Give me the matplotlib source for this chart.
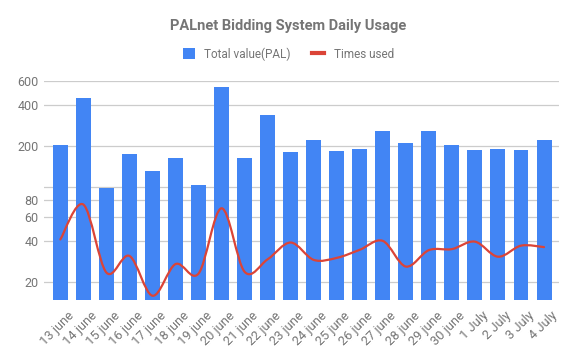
import numpy as np
import matplotlib
matplotlib.use("Agg")
import matplotlib.pyplot as plt
from matplotlib.path import Path
from matplotlib.patches import PathPatch, Patch
from matplotlib.lines import Line2D
from matplotlib.transforms import ScaledTranslation

plt.rcParams['font.family'] = ['Roboto', 'DejaVu Sans']

dates = ["13 june", "14 june", "15 june", "16 june", "17 june", "18 june", "19 june",
         "20 june", "21 june", "22 june", "23 june", "24 june", "25 june", "26 june",
         "27 june", "28 june", "29 june", "30 june", "1 July", "2 July", "3 July", "4 July"]
total_value = [203, 449, 98, 174, 131, 162, 103, 540, 162, 336, 180, 220, 183, 189,
               256, 209, 256, 202, 186, 189, 186, 220]
times_used = [41, 74, 23.4, 31, 15.8, 27, 23, 69.5, 23.7, 29.3, 38.9, 29, 30, 34.4,
              40, 25.9, 34.2, 34.8, 39.5, 30.6, 36.9, 36]
y_ticks = [20, 40, 60, 80, 100, 200, 400, 600]
y_tick_labels = ["20", "40", "60", "80", "", "200", "400", "600"]

BLUE = "#4285F4"
RED = "#DB4437"
GREY = "#757575"

fig = plt.figure(figsize=(5.77, 3.57), dpi=100)
ax = fig.add_axes([44/577, 1 - 300/357, (559 - 44)/577, (300 - 81)/357])

x = np.arange(len(dates))
ax.bar(x, total_value, width=0.65, color=BLUE, zorder=2)

ax.set_yscale('log')
ax.set_ylim(14.7, 600)
ax.set_xlim(-0.71, len(dates) - 1 + 0.65)

# smooth curve through points (cubic Bezier in display/log space)
px = x.astype(float)
py = np.log10(np.array(times_used, dtype=float))
verts = [(px[0], times_used[0])]
codes = [Path.MOVETO]
n = len(px)
for i in range(n - 1):
    p0 = np.array([px[max(i - 1, 0)], py[max(i - 1, 0)]])
    p1 = np.array([px[i], py[i]])
    p2 = np.array([px[i + 1], py[i + 1]])
    p3 = np.array([px[min(i + 2, n - 1)], py[min(i + 2, n - 1)]])
    c1 = p1 + (p2 - p0) / 6.0
    c2 = p2 - (p3 - p1) / 6.0
    for c in (c1, c2, p2):
        verts.append((c[0], 10 ** c[1]))
    codes += [Path.CURVE4] * 3
path = Path(verts, codes)
ax.add_patch(PathPatch(path, facecolor='none', edgecolor=RED, lw=1.6, zorder=3,
                       capstyle='round', joinstyle='round'))

ax.set_yticks(y_ticks)
ax.set_yticklabels(y_tick_labels)
ax.yaxis.set_minor_locator(matplotlib.ticker.NullLocator())
ax.grid(axis='y', color='#cccccc', lw=0.9, zorder=0)
ax.set_axisbelow(True)
for s in ax.spines.values():
    s.set_visible(False)
ax.tick_params(axis='y', length=0, labelsize=9, labelcolor=GREY, pad=4)
ax.set_xticks(x)
ax.set_xticklabels(dates, rotation=45, ha='right', rotation_mode='anchor')
ax.tick_params(axis='x', length=0, labelsize=9.3, labelcolor=GREY, pad=6.5)
offset = ScaledTranslation(7/100, 0, fig.dpi_scale_trans)
for lbl in ax.get_xticklabels():
    lbl.set_transform(lbl.get_transform() + offset)

fig.text(0.5, 1 - 26/357, "PALnet Bidding System Daily Usage", ha='center', va='center',
         fontsize=10.5, fontweight='bold', color=GREY)

handles = [Patch(facecolor=BLUE, edgecolor='none'),
           Line2D([0], [0], color=RED, lw=3)]
fig.legend(handles, ["Total value(PAL)", "Times used"], loc='center',
           bbox_to_anchor=(0.5, 1 - 54/357), ncol=2, frameon=False,
           fontsize=8.5, labelcolor=GREY, handlelength=1.0, handleheight=1.0,
           columnspacing=1.8, handletextpad=0.8)

fig.savefig("out.png", dpi=100)
